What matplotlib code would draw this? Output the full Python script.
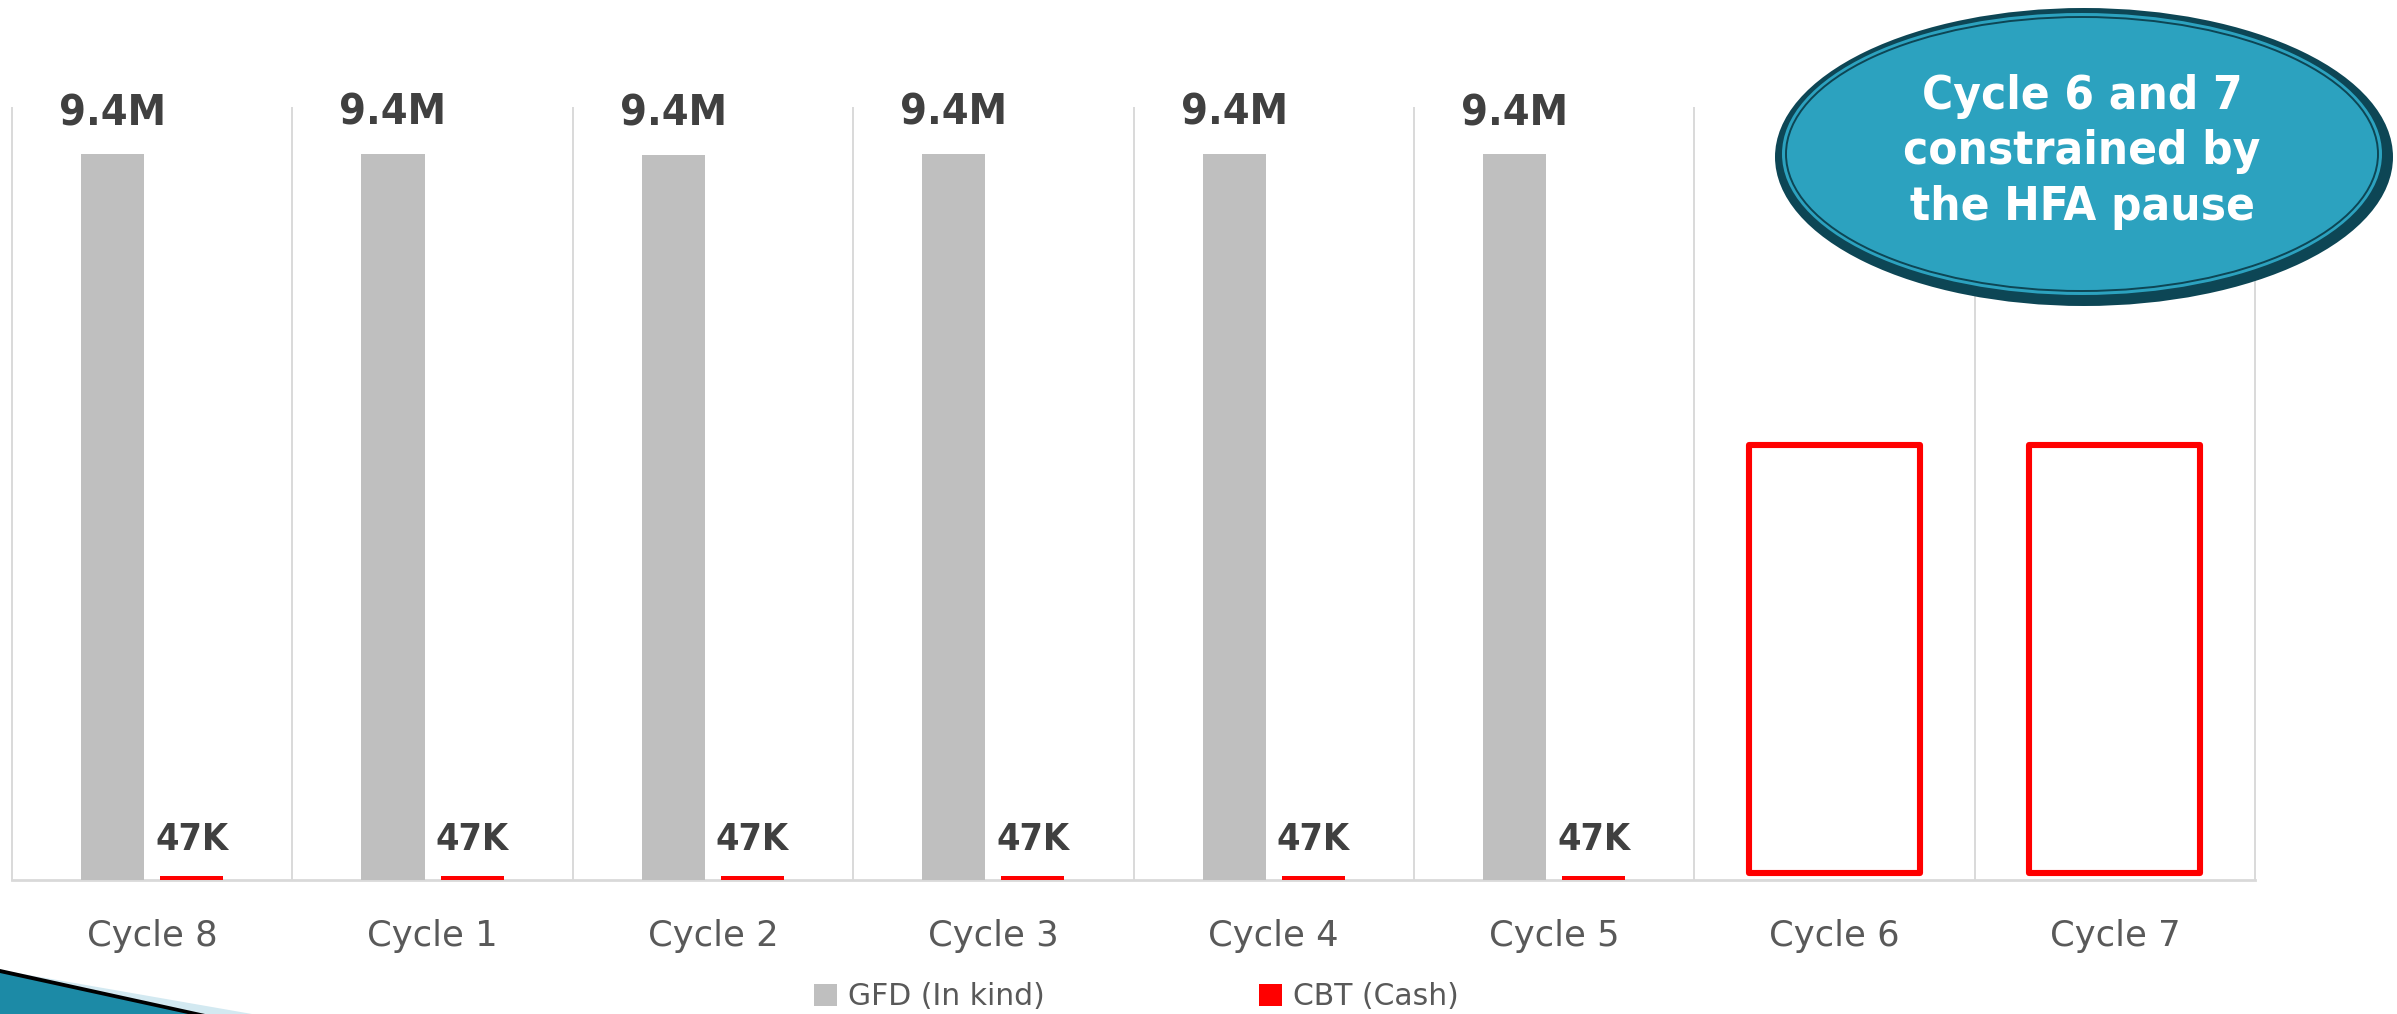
"""
GFD (in kind) vs CBT (cash) beneficiaries per distribution cycle,
with cycles 6 and 7 flagged as constrained by the HFA pause.
"""

import numpy as np
import matplotlib.pyplot as plt
from matplotlib.patches import Patch, Ellipse, Polygon

# data
cycles = ['Cycle 8', 'Cycle 1', 'Cycle 2', 'Cycle 3', 'Cycle 4', 'Cycle 5', 'Cycle 6', 'Cycle 7']
gfd_in_kind = [9.40e6, 9.41e6, 9.39e6, 9.41e6, 9.41e6, 9.40e6, np.nan, np.nan]
cbt_cash = [47e3, 47e3, 47e3, 47e3, 47e3, 47e3, np.nan, np.nan]
# empty red boxes drawn for the paused cycles
paused_box = [np.nan, np.nan, np.nan, np.nan, np.nan, np.nan, 5.63e6, 5.63e6]
callout_text = 'Cycle 6 and 7\nconstrained by\nthe HFA pause'

GREY = '#bfbfbf'
RED = '#ff0000'
GRID = '#d9d9d9'
LABEL = '#404040'
TICK = '#595959'
TEAL = '#2ca2bf'
DARK_TEAL = '#0d4655'

W, H = 2397, 1014


def fmt_value(v):
    if v >= 1e6:
        return '%.1fM' % (v / 1e6)
    return '%dK' % round(v / 1e3)


fig = plt.figure(figsize=(W / 100, H / 100), dpi=100)
ax = fig.add_axes([12 / W, 1 - 880 / H, (2255 - 12) / W, (880 - 108) / H])

x = np.arange(len(cycles))
bw = 0.225
off = 0.141

ax.bar(x - off, gfd_in_kind, width=bw, color=GREY, zorder=3)
ax.bar(x + off, cbt_cash, width=bw, color=RED, zorder=3)

box_base = 0.085e6
box_h = [v - box_base for v in paused_box]
ax.bar(x, box_h, bottom=box_base, width=0.61, fill=False, edgecolor=RED,
       linewidth=4.4, joinstyle='round', zorder=3)

for xi, v in zip(x, gfd_in_kind):
    if not np.isnan(v):
        ax.annotate(fmt_value(v), (xi - off, v), xytext=(0, 21), textcoords='offset points',
                    ha='center', va='baseline', fontsize=31, fontweight='bold',
                    fontstretch='condensed', color=LABEL)
for xi, v in zip(x, cbt_cash):
    if not np.isnan(v):
        ax.annotate(fmt_value(v), (xi + off, v), xytext=(0, 19), textcoords='offset points',
                    ha='center', va='baseline', fontsize=27, fontweight='bold',
                    fontstretch='condensed', color=LABEL)

ax.set_xlim(-0.5, len(cycles) - 0.5)
ax.set_ylim(0, 10e6)

# category separators
for b in np.arange(-0.5, len(cycles)):
    ax.axvline(b, color=GRID, lw=1.4, zorder=1, clip_on=False)

for s in ['top', 'right', 'left']:
    ax.spines[s].set_visible(False)
ax.spines['bottom'].set_color(GRID)
ax.spines['bottom'].set_linewidth(2)
ax.spines['bottom'].set_zorder(2)

ax.set_yticks([])
ax.set_xticks(x)
ax.set_xticklabels(cycles, fontsize=25.5, color=TICK)
ax.tick_params(axis='x', length=0, pad=28)

handles = [Patch(facecolor=GREY, label='GFD (In kind)'),
           Patch(facecolor=RED, label='CBT (Cash)')]
leg = fig.legend(handles=handles, loc='center', bbox_to_anchor=(0.4741, 0.0168),
                 ncol=2, frameon=False, fontsize=21.5, handlelength=0.77,
                 handleheight=0.77, handletextpad=0.35, columnspacing=7.2,
                 borderpad=0, borderaxespad=0)
for t in leg.get_texts():
    t.set_color(TICK)

# callout ellipse, top right
cx, cy = 2082 / W, 1 - 154 / H
fig.add_artist(Ellipse((cx + 2 / W, cy - 3 / H), 618 / W, 298 / H, transform=fig.transFigure,
                       facecolor=DARK_TEAL, edgecolor='none', zorder=5))
fig.add_artist(Ellipse((cx, cy), 600 / W, 282 / H, transform=fig.transFigure,
                       facecolor=TEAL, edgecolor='none', zorder=6))
fig.add_artist(Ellipse((cx, cy), 592 / W, 274 / H, transform=fig.transFigure,
                       facecolor='none', edgecolor=DARK_TEAL, lw=1.4, zorder=7))
fig.text(cx, 1 - 152 / H, callout_text, ha='center', va='center', fontsize=34,
         fontweight='bold', fontstretch='condensed', color='white',
         linespacing=1.3, zorder=8)

# slide decoration, bottom left corner
def px(pts):
    return [(a / W, 1 - b / H) for a, b in pts]

fig.add_artist(Polygon(px([(0, 970), (252, 1014), (0, 1014)]), closed=True,
                       transform=fig.transFigure, facecolor='#d3e9f1', edgecolor='none', zorder=5))
fig.add_artist(Polygon(px([(0, 969), (205, 1014), (0, 1014)]), closed=True,
                       transform=fig.transFigure, facecolor='#000000', edgecolor='none', zorder=6))
fig.add_artist(Polygon(px([(0, 973), (188, 1014), (0, 1014)]), closed=True,
                       transform=fig.transFigure, facecolor='#1c8aa6', edgecolor='none', zorder=7))

fig.savefig('out.png', dpi=100)
